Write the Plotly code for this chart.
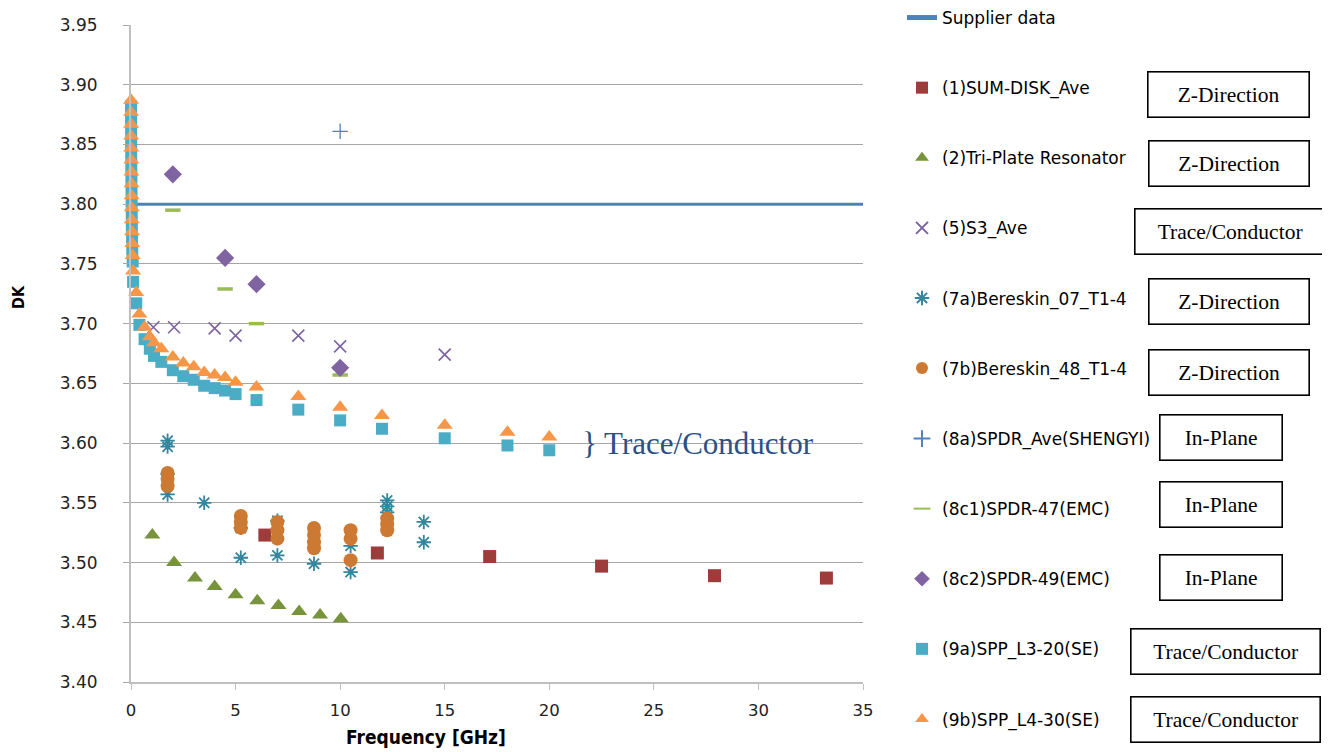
import plotly.graph_objects as go

# ---- data (frequency in GHz, DK) ----
supplier_x = [0, 35]
supplier_dk = [3.80, 3.80]

sumdisk_x = [6.4, 11.78, 17.15, 22.5, 27.9, 33.25]
sumdisk_dk = [3.523, 3.508, 3.505, 3.497, 3.489, 3.487]

triplate_x = [1.02, 2.06, 3.06, 4.0, 5.0, 6.04, 7.05, 8.04, 9.04, 10.03]
triplate_dk = [3.523, 3.500, 3.487, 3.480, 3.473, 3.468, 3.464, 3.459, 3.456, 3.453]

s3_x = [1.07, 2.06, 4.0, 5.0, 8.0, 10.0, 15.0]
s3_dk = [3.697, 3.697, 3.696, 3.690, 3.690, 3.681, 3.674]

ber07_x = [1.75, 1.75, 1.75, 1.75, 3.5, 5.25, 5.25, 7.0, 7.0, 8.75, 10.5, 10.5, 12.25, 12.25, 12.25, 14.0, 14.0]
ber07_dk = [3.602, 3.597, 3.574, 3.557, 3.550, 3.529, 3.504, 3.535, 3.506, 3.499, 3.514, 3.492, 3.552, 3.547, 3.542, 3.534, 3.517]

ber48_x = [1.75, 1.75, 1.75, 5.25, 5.25, 5.25, 7.0, 7.0, 7.0, 8.75, 8.75, 8.75, 8.75, 10.5, 10.5, 10.5, 12.25, 12.25, 12.25]
ber48_dk = [3.575, 3.570, 3.564, 3.539, 3.534, 3.529, 3.534, 3.527, 3.520, 3.529, 3.523, 3.517, 3.512, 3.527, 3.520, 3.502, 3.537, 3.532, 3.527]

spdr_ave_x = [10.0]
spdr_ave_dk = [3.861]

spdr47_x = [2.0, 4.5, 6.0, 10.0]
spdr47_dk = [3.795, 3.729, 3.700, 3.657]

spdr49_x = [2.0, 4.5, 6.0, 10.0]
spdr49_dk = [3.825, 3.755, 3.733, 3.663]

spp_x = [0.002, 0.004, 0.006, 0.008, 0.01, 0.015, 0.02, 0.025, 0.03, 0.035, 0.04, 0.05, 0.06, 0.08,
         0.1, 0.25, 0.4, 0.65, 0.9, 1.1, 1.45, 2, 2.5, 3, 3.5, 4, 4.5, 5, 6, 8, 10, 12, 15, 18, 20]
spp_l3_dk = [3.882, 3.872, 3.862, 3.852, 3.842, 3.832, 3.822, 3.812, 3.802, 3.792, 3.782, 3.772, 3.762, 3.752,
             3.735, 3.717, 3.699, 3.687, 3.679, 3.673, 3.668, 3.661, 3.656, 3.653, 3.648, 3.646, 3.644, 3.641,
             3.636, 3.628, 3.619, 3.612, 3.604, 3.598, 3.594]
spp_l4_dk = [3.887, 3.877, 3.867, 3.857, 3.847, 3.837, 3.827, 3.817, 3.807, 3.797, 3.787, 3.777, 3.767, 3.757,
             3.744, 3.726, 3.708, 3.697, 3.689, 3.684, 3.679, 3.672, 3.667, 3.664, 3.659, 3.657, 3.655, 3.651,
             3.647, 3.639, 3.630, 3.623, 3.615, 3.609, 3.605]

# direction boxes beside the legend: (text, left px, right px, centre y px)
boxes = [
    ("Z-Direction", 1146, 1310, 94),
    ("Z-Direction", 1147, 1310, 163),
    ("Trace/Conductor", 1133, 1326, 231),
    ("Z-Direction", 1147, 1310, 301),
    ("Z-Direction", 1147, 1310, 372),
    ("In-Plane", 1158, 1283, 437),
    ("In-Plane", 1158, 1283, 504),
    ("In-Plane", 1158, 1283, 577),
    ("Trace/Conductor", 1129, 1321, 651),
    ("Trace/Conductor", 1129, 1321, 719),
]

# page body has an 8px margin, so work in window pixels and shift
OFF = 8
W, H = 1330 - OFF, 752 - OFF
L, R, T, B = 131 - OFF, 863 - OFF, 25 - OFF, 682 - OFF


def px_x(x):
    return (x - OFF - L) / (R - L)


def px_y(y):
    return (B - (y - OFF)) / (B - T)


def pts(name, x, y, symbol, color, size, lw=0, leg="legend"):
    mk = dict(symbol=symbol, color=color, size=size)
    if lw:
        mk["line"] = dict(color=color, width=lw)
    return go.Scatter(name=name, x=x, y=y, mode="markers", marker=mk,
                      cliponaxis=False, legendgroup=name, legend=leg)


fig = go.Figure()
fig.add_trace(go.Scatter(name="Supplier data", x=supplier_x, y=supplier_dk, mode="lines",
                         line=dict(color="#4F81BD", width=3), legendgroup="sup"))
fig.add_trace(pts("(1)SUM-DISK_Ave", sumdisk_x, sumdisk_dk, "square", "#9E3B3B", 13))
fig.add_trace(pts("(2)Tri-Plate Resonator", triplate_x, triplate_dk, "triangle-up", "#77933C", 14))
fig.add_trace(pts("(5)S3_Ave", s3_x, s3_dk, "x-thin-open", "#7B64A0", 12, lw=1.6))
fig.add_trace(pts("(7a)Bereskin_07_T1-4", ber07_x, ber07_dk, "asterisk-open", "#31859C", 12, lw=1.8))
fig.add_trace(pts("(7b)Bereskin_48_T1-4", ber48_x, ber48_dk, "circle", "#CC7A33", 14))
fig.add_trace(pts("(8a)SPDR_Ave(SHENGYI)", spdr_ave_x, spdr_ave_dk, "cross-thin-open", "#4F81BD", 11, lw=1.3, leg="legend2"))
fig.add_trace(pts("(8c1)SPDR-47(EMC)", spdr47_x, spdr47_dk, "line-ew-open", "#9BBB59", 11, lw=3.5, leg="legend2"))
fig.add_trace(pts("(8c2)SPDR-49(EMC)", spdr49_x, spdr49_dk, "diamond", "#8064A2", 14, leg="legend2"))
fig.add_trace(pts("(9a)SPP_L3-20(SE)", spp_x, spp_l3_dk, "square", "#4BACC6", 12, leg="legend2"))
fig.add_trace(pts("(9b)SPP_L4-30(SE)", spp_x, spp_l4_dk, "triangle-up", "#F79646", 14, leg="legend2"))

ann = []
for txt, x0, x1, yc in boxes:
    ann.append(dict(text=txt, xref="paper", yref="paper", x=px_x((x0 + x1) / 2), y=px_y(yc),
                    xanchor="center", yanchor="middle", showarrow=False,
                    width=x1 - x0 - 4, height=44, borderpad=0,
                    bordercolor="black", borderwidth=1.6, bgcolor="white",
                    font=dict(family="Liberation Serif", size=21.5, color="black")))
ann.append(dict(text="} Trace/Conductor", xref="paper", yref="paper", x=px_x(580), y=px_y(443),
                xanchor="left", yanchor="middle", showarrow=False,
                font=dict(family="Liberation Serif", size=31, color="#2B5087")))
ann.append(dict(text="<b>DK</b>", xref="paper", yref="paper", x=px_x(18), y=px_y(297),
                xanchor="center", yanchor="middle", showarrow=False, textangle=-90,
                font=dict(family="DejaVu Sans Condensed", size=16, color="black")))
ann.append(dict(text="<b>Frequency [GHz]</b>", xref="paper", yref="paper", x=px_x(426), y=px_y(737),
                xanchor="center", yanchor="middle", showarrow=False,
                font=dict(family="DejaVu Sans Condensed", size=19, color="black")))

leg_style = dict(xanchor="left", yanchor="top", tracegroupgap=45, itemsizing="constant",
                 maxheight=700,
                 font=dict(family="DejaVu Sans", size=17, color="black"),
                 bgcolor="rgba(0,0,0,0)")

fig.update_layout(
    width=W, height=H,
    margin=dict(l=L, r=W - R, t=T, b=H - B, autoexpand=False),
    paper_bgcolor="white", plot_bgcolor="white",
    font=dict(family="DejaVu Sans", size=16, color="#222222"),
    showlegend=True,
    legend=dict(x=px_x(902), y=px_y(0), **leg_style),
    legend2=dict(x=px_x(902), y=px_y(421), **leg_style),
    annotations=ann,
)
fig.update_xaxes(range=[0, 35], dtick=5, showgrid=False, zeroline=False,
                 showline=True, linecolor="#BFBFBF", linewidth=2,
                 ticks="outside", ticklen=6, tickcolor="#BFBFBF", ticklabelstandoff=6,
                 tickfont=dict(family="DejaVu Sans", size=16.5, color="#222222"))
fig.update_yaxes(range=[3.40, 3.95], dtick=0.05, tickformat=".2f",
                 showgrid=True, gridcolor="#A6A6A6", gridwidth=1, zeroline=False,
                 showline=True, linecolor="#BFBFBF", linewidth=2,
                 ticks="outside", ticklen=6, tickcolor="#A6A6A6", ticklabelstandoff=22,
                 tickfont=dict(family="DejaVu Sans", size=17, color="#222222"))

fig.write_html("out.html")
